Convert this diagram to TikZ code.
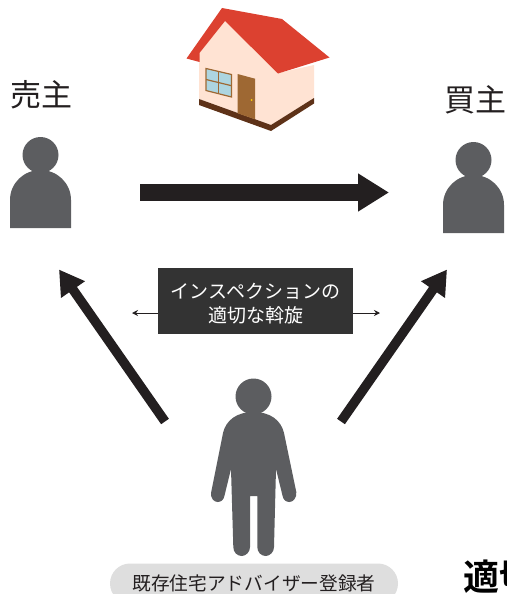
\documentclass[tikz,border=0pt]{standalone}
\usepackage{fontspec}
\setmainfont{Noto Sans CJK JP}
\newfontfamily\cjkbold[BoldFont={Noto Sans CJK JP Bold}]{Noto Sans CJK JP}
\usepackage{xcolor}
\usepackage{tikz}
\usetikzlibrary{arrows.meta}

\definecolor{persongray}{HTML}{5C5D60}
\definecolor{arrowblack}{HTML}{231F20}
\definecolor{boxgray}{HTML}{333333}
\definecolor{pillgray}{HTML}{DEDEDE}
\definecolor{roofred}{HTML}{DC4130}
\definecolor{wallcream}{HTML}{FFE3D3}
\definecolor{footbrown}{HTML}{5E3218}
\definecolor{woodbrown}{HTML}{9E6833}
\definecolor{glassblue}{HTML}{ADD5E0}

\tikzset{
    person/.style={fill=persongray},
    partylabel/.style={font=\fontsize{31}{31}\selectfont, text=arrowblack, inner sep=0pt},
    bigarrow/.style={draw=arrowblack, line width=#1},
    smallarrow/.style={draw=arrowblack, line width=1pt, -{Stealth[length=6pt,width=6pt]}}
}

% Kopf und Rumpf, Breite 61
\newcommand{\bust}{
    \fill[person] (40.5,155) circle (18);
    \fill[person] (10,228) -- (10,200) .. controls (10,183) and (24,170) .. (40.5,170)
        .. controls (57,170) and (71,183) .. (71,200) -- (71,228) -- cycle;
}

\begin{document}
\begin{tikzpicture}[x=1pt, y=-1pt]

    \useasboundingbox (0,0) rectangle (506,594);
    \clip (0,0) rectangle (506,594);

    % Haus
    \fill[wallcream] (199,53) -- (225,21) -- (278,73) -- (314,65) -- (314,98) -- (271,125) -- (199,99) -- cycle;
    \fill[footbrown] (199,99) -- (199,105) -- (271,131) -- (314,103.5) -- (314,98) -- (271,125) -- cycle;
    \fill[roofred] (222,8) -- (282,19) -- (329.5,57.5) -- (278,73.5) -- (225,21) -- (199.5,53) -- (199.5,62) -- (186.5,58.5) -- cycle;
    \filldraw[fill=glassblue, draw=woodbrown, line width=1.2pt] (206,68.5) -- (231.5,74.5) -- (231.5,97) -- (206,90.5) -- cycle;
    \draw[woodbrown, line width=1.2pt] (218.7,71.5) -- (218.7,93.7);
    \draw[woodbrown, line width=1.2pt] (206,79.5) -- (231.5,85.7);
    \fill[woodbrown] (237.5,74) -- (255,78.7) -- (255,119.3) -- (237.5,113.3) -- cycle;
    \fill[yellow!70!orange] (251.7,100) circle (1);

    % Verkaeufer und Kaeufer
    \bust
    \begin{scope}[shift={(433,5)}]
        \bust
    \end{scope}
    \node[partylabel] (sellerlabel) at (41.5,95) {売主};
    \node[partylabel] (buyerlabel) at (475,100) {買主};

    % Berater
    \fill[person] (253.5,396.5) circle (18);
    \fill[person] (253.5,412) .. controls (270,412) and (281,420) .. (284,433) -- (296.3,492)
        .. controls (297,498) and (293,502) .. (289.5,502) .. controls (286,502) and (283.4,500) .. (282.6,496)
        -- (276,469) -- (274,547) .. controls (274,552) and (270,556) .. (265.6,556)
        .. controls (261,556) and (257.3,552) .. (257.3,547) -- (257.3,496) -- (250,496) -- (250,547)
        .. controls (250,552) and (246,556) .. (241.6,556) .. controls (237,556) and (233.3,552) .. (233.3,547)
        -- (231,469) -- (224.4,496) .. controls (223.6,500) and (221,502) .. (217.5,502)
        .. controls (214,502) and (210,498) .. (211.2,492) -- (223,433) .. controls (226,420) and (237,412) .. (253.5,412) -- cycle;

    % Pfeile
    \coordinate (sellerout) at (140,192.5);
    \coordinate (buyerin) at (389,192.5);
    \coordinate (agentleft) at (165,421.5);
    \coordinate (sellerin) at (59,269.5);
    \coordinate (agentright) at (341,421.5);
    \coordinate (buyerup) at (447,269.5);
    \draw[bigarrow=17pt, -{Triangle[length=31pt,width=36pt]}] (sellerout) -- (buyerin);
    \draw[bigarrow=9.5pt, -{Triangle[length=24.5pt,width=27.5pt]}] (agentleft) -- (sellerin);
    \draw[bigarrow=9.5pt, -{Triangle[length=24.5pt,width=27.5pt]}] (agentright) -- (buyerup);

    % Vermittlung
    \node[fill=boxgray, text=white, minimum width=195pt, minimum height=66pt, inner sep=0pt, align=center,
        font=\fontsize{19}{24}\selectfont] (mediation) at (255.5,301) {\rule{0pt}{20pt}インスペクションの\\適切な斡旋};
    \coordinate (mediationl) at (132,313);
    \coordinate (mediationr) at (380,313);
    \draw[smallarrow] (mediation.west |- mediationl) -- (mediationl);
    \draw[smallarrow] (mediation.east |- mediationr) -- (mediationr);

    % Beschriftung unten
    \node[fill=pillgray, text=arrowblack, minimum width=288pt, minimum height=40pt, rounded corners=20pt, inner sep=0pt,
        font=\fontsize{18.7}{24}\selectfont] (registrant) at (254,583.5) {既存住宅アドバイザー登録者};
    \node[anchor=north west, inner sep=0pt, text=black, font=\cjkbold\bfseries\fontsize{36}{36}\selectfont] (cuttitle) at (463,560) {適切};

\end{tikzpicture}
\end{document}
